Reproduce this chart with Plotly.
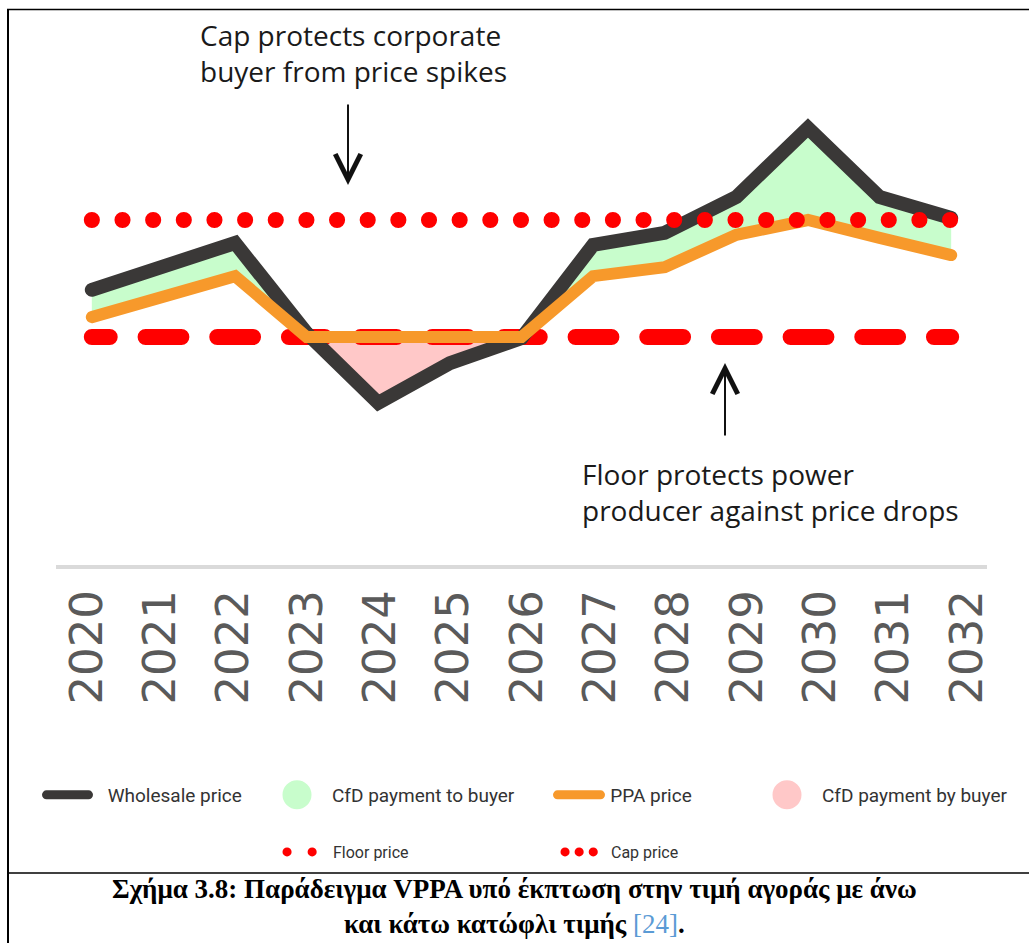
import plotly.graph_objects as go

# ---------------- data ----------------
years = [2020, 2021, 2022, 2023, 2024, 2025, 2026, 2027, 2028, 2029, 2030, 2031, 2032]
year_labels = ["2020", "2021", "2022", "2023", "2024", "2025", "2026",
               "2027", "2028", "2029", "2030", "2031", "2032"]
wholesale_price = [52.1, 58.2, 64.1, 41.0, 23.1, 33.3, 39.7, 63.6, 66.7, 75.9, 93.6, 75.9, 70.5]
ppa_price = [45.1, 50.5, 55.6, 40.0, 40.0, 40.0, 40.0, 55.6, 57.9, 66.2, 70.0, 65.4, 61.0]
floor_price = 40.0
cap_price = 70.0

# derived envelopes for the CfD areas
green_upper = [max(w, p) for w, p in zip(wholesale_price, ppa_price)]
pink_lower = [min(w, p) for w, p in zip(wholesale_price, ppa_price)]

# ---------------- layout geometry ----------------
W, H = 1030, 943
ML, MR, MT, MB = 56, 43, 100, 378
PW, PH = W - ML - MR, H - MT - MB


def px_x(px):
    return (px - ML) / PW


def px_y(py):
    return (H - MB - py) / PH


Y0_PX, PX_PER_UNIT = 493.0, 3.9
y_range = [(Y0_PX - (H - MB)) / PX_PER_UNIT, (Y0_PX - MT) / PX_PER_UNIT]

BLACK = "#3a3837"
ORANGE = "#f7992b"
GREEN = "#c8fdcc"
PINK = "#ffc8c8"
RED = "#ff0000"
TXT = "#1a1a1a"
NB = "\u00a0"

fig = go.Figure()

# CfD payment to buyer (green): between PPA price and wholesale price
fig.add_trace(go.Scatter(x=years, y=ppa_price, mode="lines", line=dict(width=0),
                         showlegend=False, hoverinfo="skip"))
fig.add_trace(go.Scatter(x=years, y=green_upper, mode="lines", line=dict(width=0),
                         fill="tonexty", fillcolor=GREEN, showlegend=False, hoverinfo="skip"))
# CfD payment by buyer (pink)
fig.add_trace(go.Scatter(x=years, y=ppa_price, mode="lines", line=dict(width=0),
                         showlegend=False, hoverinfo="skip"))
fig.add_trace(go.Scatter(x=years, y=pink_lower, mode="lines", line=dict(width=0),
                         fill="tonexty", fillcolor=PINK, showlegend=False, hoverinfo="skip"))

# floor price (dashed)
fig.add_trace(go.Scatter(x=[years[0], years[-1]], y=[floor_price, floor_price], mode="lines",
                         line=dict(color=RED, width=16, dash="35.8px,35.87px"),
                         showlegend=False, hoverinfo="skip"))
# wholesale price
fig.add_trace(go.Scatter(x=years, y=wholesale_price, mode="lines", name=NB * 3 + "Wholesale price",
                         line=dict(color=BLACK, width=14), legend="legend"))
# PPA price
fig.add_trace(go.Scatter(x=years, y=ppa_price, mode="lines", name=NB + "PPA price",
                         line=dict(color=ORANGE, width=12), legend="legend3"))
# cap price (dotted)
fig.add_trace(go.Scatter(x=[years[0], years[-1]], y=[cap_price, cap_price], mode="lines",
                         line=dict(color=RED, width=16, dash="0.1px,30.55px"),
                         showlegend=False, hoverinfo="skip"))

# legend-only entries
fig.add_trace(go.Scatter(x=[None], y=[None], mode="markers", name="CfD payment to buyer",
                         marker=dict(size=16, color=GREEN, line=dict(color=GREEN, width=2)),
                         legend="legend2"))
fig.add_trace(go.Scatter(x=[None], y=[None], mode="markers", name="CfD payment by buyer",
                         marker=dict(size=16, color=PINK, line=dict(color=PINK, width=2)),
                         legend="legend4"))
fig.add_trace(go.Scatter(x=[None], y=[None], mode="lines", name="Floor price",
                         line=dict(color=RED, width=9, dash="0.1px,25px"), legend="legend5"))
fig.add_trace(go.Scatter(x=[None], y=[None], mode="lines", name="Cap price",
                         line=dict(color=RED, width=9, dash="0.1px,14px"), legend="legend6"))

# carrier for the year labels axis
fig.add_trace(go.Scatter(x=years, y=[None] * len(years), xaxis="x2", mode="lines",
                         showlegend=False, hoverinfo="skip"))

row1_font = dict(family="Roboto", size=19, color="#333333")
row2_font = dict(family="Roboto", size=16, color="#333333")


def leg(px, py, font, itemwidth):
    return dict(x=px_x(px), y=px_y(py), xanchor="left", yanchor="middle",
                orientation="h", bgcolor="rgba(0,0,0,0)", borderwidth=0,
                font=font, itemwidth=itemwidth, itemclick=False, itemdoubleclick=False)


annotations = [
    dict(x=px_x(198), y=px_y(53.5), xref="paper", yref="paper", xanchor="left", yanchor="middle",
         align="left", showarrow=False,
         text="Cap protects corporate<br>buyer from price spikes",
         font=dict(family="Open Sans", size=28, color=TXT)),
    dict(x=px_x(580), y=px_y(491.5), xref="paper", yref="paper", xanchor="left", yanchor="middle",
         align="left", showarrow=False,
         text="Floor protects power<br>producer against price drops",
         font=dict(family="Open Sans", size=28, color=TXT)),
    dict(x=px_x(348), y=px_y(185), xref="paper", yref="paper", text="", showarrow=True,
         ax=0, ay=-82, axref="pixel", ayref="pixel", arrowhead=5, arrowwidth=2, arrowsize=2.5,
         arrowcolor="#111111", standoff=0),
    dict(x=px_x(725), y=px_y(363), xref="paper", yref="paper", text="", showarrow=True,
         ax=0, ay=74, axref="pixel", ayref="pixel", arrowhead=5, arrowwidth=2, arrowsize=2.5,
         arrowcolor="#111111", standoff=0),
    dict(x=px_x(514), y=px_y(906.5), xref="paper", yref="paper", xanchor="center", yanchor="middle",
         align="center", showarrow=False,
         text="<b>Σχήμα 3.8: Παράδειγμα VPPA υπό έκπτωση στην τιμή αγοράς με άνω</b><br>"
              "<b>και κάτω κατώφλι τιμής </b><span style='color:#5b9bd5'>[24]</span><b>.</b>",
         font=dict(family="Liberation Serif", size=27, color="#000000")),
]

shapes = [
    dict(type="line", xref="paper", yref="paper", x0=px_x(8), x1=px_x(8), y0=px_y(9), y1=px_y(943),
         line=dict(color="#000000", width=2)),
    dict(type="line", xref="paper", yref="paper", x0=px_x(7), x1=px_x(1029), y0=px_y(9.5), y1=px_y(9.5),
         line=dict(color="#000000", width=1.5)),
    dict(type="line", xref="paper", yref="paper", x0=px_x(8), x1=px_x(1029), y0=px_y(873), y1=px_y(873),
         line=dict(color="#000000", width=1.5)),
]

fig.update_layout(
    width=W, height=H, autosize=False,
    margin=dict(l=ML, r=MR, t=MT, b=MB, pad=0),
    paper_bgcolor="white", plot_bgcolor="white",
    xaxis=dict(range=[2019.5, 2032.5], showticklabels=False, ticks="", showgrid=False,
               zeroline=False, showline=True, linecolor="#dadada", linewidth=4, fixedrange=True),
    xaxis2=dict(range=[2019.577, 2032.273], overlaying="x", anchor="y", side="bottom",
                tickmode="array", tickvals=years, ticktext=year_labels, tickangle=-90,
                ticks="", showgrid=False, zeroline=False, showline=False,
                ticklabelstandoff=15,
                tickfont=dict(family="DejaVu Sans", size=45, color="#5a5a5a"), fixedrange=True),
    yaxis=dict(range=y_range, visible=False, fixedrange=True),
    legend=leg(41.5, 795, row1_font, 42),
    legend2=leg(262, 795, row1_font, 60),
    legend3=leg(552.5, 795, row1_font, 43),
    legend4=leg(752, 795, row1_font, 60),
    legend5=leg(282, 852, row2_font, 41),
    legend6=leg(560, 852, row2_font, 41),
    annotations=annotations,
    shapes=shapes,
    showlegend=True,
)

post = """
var st = document.createElement('style');
st.textContent = "body{margin:0;padding:0;}" +
  " path.js-line{stroke-linecap:round;}" +
  " path.js-line[style*='35.8px']{stroke-dashoffset:17.9px;}" +
  " .infolayer .legendlines path.js-line{stroke-width:9px !important;}" +
  " .infolayer .scatterpts{stroke-width:13px !important;}";
document.head.appendChild(st);
"""

fig.write_html("out.html", post_script=post, config={"displayModeBar": False})
